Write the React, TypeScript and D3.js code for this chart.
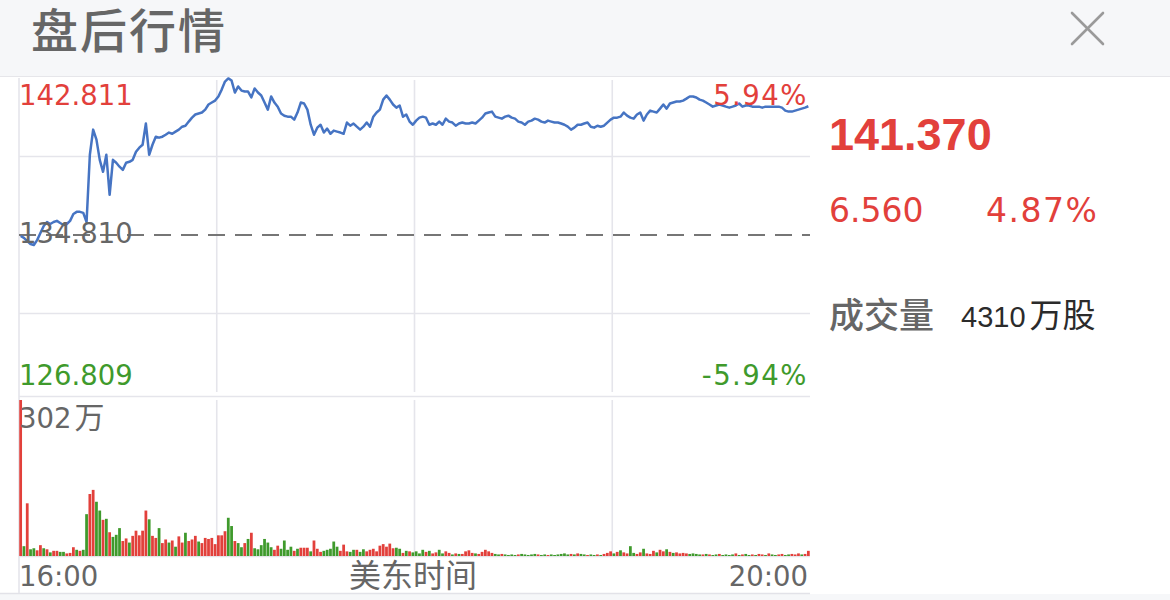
import React from 'react';
import * as d3 from 'd3';

// ---------- data ----------
const PRICES: number[] = [
  134.76, 134.66, 134.50, 134.35, 134.30, 134.55, 134.91, 135.27, 135.47, 135.37,
  135.47, 135.53, 135.42, 135.32, 135.37, 135.53, 135.88, 135.99, 135.99, 135.94,
  135.47, 138.90, 140.18, 139.67, 138.64, 138.03, 138.90, 136.86, 138.64, 138.49,
  138.29, 138.13, 138.49, 138.54, 138.64, 139.05, 139.26, 139.41, 140.49, 138.90,
  139.41, 139.82, 139.77, 139.82, 139.92, 140.03, 139.97, 140.08, 140.18, 140.33,
  140.38, 140.59, 140.79, 140.95, 141.00, 141.05, 141.20, 141.46, 141.56, 141.66,
  141.87, 142.22, 142.63, 142.79, 142.68, 142.07, 142.38, 142.17, 142.12, 142.12,
  141.82, 142.28, 142.07, 141.92, 141.56, 141.20, 141.87, 141.56, 141.35, 141.00,
  140.89, 140.84, 140.84, 140.69, 141.05, 141.56, 141.51, 141.20, 140.43, 139.92,
  140.28, 140.43, 140.03, 140.23, 139.97, 140.13, 140.08, 140.03, 139.97, 140.54,
  140.38, 140.49, 140.33, 140.18, 140.33, 140.54, 140.33, 140.84, 141.05, 141.20,
  141.71, 141.92, 141.71, 141.46, 141.30, 141.41, 140.84, 140.95, 140.59, 140.43,
  140.64, 140.79, 140.84, 140.79, 140.43, 140.49, 140.43, 140.59, 140.43, 140.74,
  140.59, 140.54, 140.38, 140.49, 140.54, 140.49, 140.49, 140.54, 140.49, 140.64,
  140.79, 141.00, 141.05, 141.10, 140.84, 140.79, 140.74, 140.84, 140.89, 140.79,
  140.74, 140.59, 140.54, 140.43, 140.59, 140.64, 140.74, 140.69, 140.59, 140.54,
  140.64, 140.59, 140.54, 140.54, 140.49, 140.43, 140.33, 140.18, 140.28, 140.43,
  140.43, 140.49, 140.54, 140.33, 140.28, 140.38, 140.33, 140.38, 140.54, 140.69,
  140.79, 140.79, 140.84, 141.05, 140.89, 140.79, 140.74, 140.95, 141.05, 140.64,
  140.95, 141.15, 141.10, 141.05, 141.25, 141.46, 141.25, 141.51, 141.56, 141.61,
  141.61, 141.66, 141.76, 141.87, 141.87, 141.82, 141.71, 141.66, 141.56, 141.46,
  141.35, 141.41, 141.46, 141.41, 141.35, 141.30, 141.35, 141.41, 141.51, 141.35,
  141.41, 141.41, 141.35, 141.35, 141.35, 141.30, 141.35, 141.35, 141.35, 141.35,
  141.35, 141.30, 141.15, 141.10, 141.10, 141.15, 141.20, 141.25, 141.30, 141.37,
];

// volume per minute, in 万股
const VOLUMES: number[] = [
  302, 19, 102, 13, 15, 11, 21, 15, 13, 7,
  10, 10, 8, 8, 5, 6, 17, 12, 10, 12,
  81, 120, 128, 105, 88, 70, 72, 46, 37, 41,
  54, 29, 34, 26, 39, 49, 40, 49, 88, 71,
  39, 35, 54, 25, 32, 26, 30, 18, 38, 26,
  45, 29, 32, 39, 28, 25, 35, 33, 35, 23,
  40, 40, 48, 74, 58, 29, 25, 17, 25, 33,
  45, 15, 13, 21, 33, 26, 17, 12, 20, 14,
  30, 12, 18, 10, 14, 16, 16, 16, 9, 30,
  14, 8, 10, 12, 14, 28, 18, 10, 22, 9,
  8, 12, 12, 8, 13, 9, 12, 14, 9, 20,
  23, 18, 24, 15, 16, 14, 6, 10, 9, 7,
  9, 5, 12, 8, 10, 5, 7, 12, 5, 9,
  6, 3, 5, 4, 4, 9, 11, 6, 5, 4,
  8, 12, 9, 6, 4, 3, 4, 3, 2, 3,
  2, 3, 4, 3, 2, 3, 4, 3, 2, 3,
  2, 3, 2, 3, 4, 5, 3, 4, 3, 5,
  4, 3, 2, 3, 2, 3, 2, 4, 6, 9,
  5, 8, 11, 7, 5, 19, 6, 4, 7, 14,
  5, 4, 10, 7, 12, 9, 13, 8, 6, 7,
  5, 6, 5, 4, 5, 4, 3, 3, 4, 3,
  2, 3, 4, 2, 3, 2, 3, 5, 2, 3,
  4, 2, 3, 2, 4, 3, 2, 5, 3, 2,
  3, 4, 2, 3, 4, 3, 5, 3, 4, 10,
];

// r = up (red), g = down (green)
const VOLUME_SIDE: string[] = (
  'rgrggrrgrgrrggrrrgrg' +
  'grrggrgrgggrrgrrrrrg' +
  'rrgrrgrgrrgrrrgrrrrr' +
  'rrrggrggrgrggggggrrg' +
  'gggrgrrrgrrrgggggrrr' +
  'ggrggrrrrrrrrrggrgrg' +
  'gggrgrrggrrgrgrrrrgr' +
  'rrrrggrggggrgggggrgg' +
  'rggggggrgrggrggrgrrr' +
  'grgrrggrrgrrrgrrgrgr' +
  'rrrggggrgrggrggggrgr' +
  'ggrgrrgrggrrggrrrgrr'
).split('');

const PREV_CLOSE = 134.81;
const PRICE_HIGH = 142.811;
const PRICE_LOW = 126.809;
const PRICE_LABELS = ['142.811', '134.810', '126.809'];
const PCT_LABELS = ['5.94%', '-5.94%'];
const VOLUME_MAX = 302;
const VOLUME_MAX_NUM = '302';
const VOLUME_MAX_UNIT = '万';
const TIME_LABELS = ['16:00', '美东时间', '20:00'];
const TITLE = '盘后行情';
const LAST_PRICE = '141.370';
const CHANGE = '6.560';
const CHANGE_PCT = '4.87%';
const VOLUME_CAPTION = '成交量';
const VOLUME_TOTAL = '4310';
const VOLUME_UNIT = '万股';

// ---------- styles ----------
const RED = '#e2403b';
const GREEN = '#3f9a2c';
const BLUE = '#4674c3';
const GRID = '#e5e5eb';
const TEXT_GRAY = '#666666';
const NUM_FONT = "'DejaVu Sans', 'Noto Sans CJK SC', sans-serif";
const BOLD_FONT = "'Liberation Sans', Arial, sans-serif";
const PLAIN_FONT = "'Liberation Sans', Arial, 'Noto Sans CJK SC', sans-serif";
const CJK_FONT = "'Noto Sans CJK SC', 'Liberation Sans', sans-serif";

const W = 1170;
const H = 600;
const LEFT = 19;
const RIGHT = 810;
const P_TOP = 78;
const P_BOTTOM = 392;
const V_TOP = 400;
const V_BOTTOM = 556;

export default function App() {
  const n = PRICES.length;
  const idx = d3.range(n);
  const xBand = d3.scaleBand<number>().domain(idx).range([LEFT, RIGHT]).paddingInner(0.16).paddingOuter(0.08);
  const step = (RIGHT - LEFT) / n;
  const xc = (i: number) => LEFT + (i + 0.5) * step;
  const yP = d3.scaleLinear().domain([PRICE_LOW, PRICE_HIGH]).range([P_BOTTOM, P_TOP]);
  const yV = d3.scaleLinear().domain([0, VOLUME_MAX]).range([V_BOTTOM, V_TOP]);

  const line = d3
    .line<number>()
    .x((_, i) => xc(i))
    .y((d) => yP(d));

  const quarterY = [yP(PREV_CLOSE + (PRICE_HIGH - PREV_CLOSE) / 2), yP(PREV_CLOSE - (PREV_CLOSE - PRICE_LOW) / 2)];
  const vx = d3.scaleLinear().domain([0, 4]).range([LEFT, RIGHT]);
  const vLines = [1, 2, 3].map((k) => vx(k));

  return (
    <svg
      width={W}
      height={H}
      style={{ position: 'absolute', left: 0, top: 0, display: 'block', background: '#fff' }}
    >
      {/* header */}
      <rect x={0} y={0} width={W} height={76} fill="#f6f7f9" />
      <line x1={0} x2={W} y1={76.5} y2={76.5} stroke="#e6e6ea" strokeWidth={1} />
      <text x={31} y={48} fontFamily={CJK_FONT} fontSize={47} fontWeight={500} fill={TEXT_GRAY} letterSpacing={2}>
        {TITLE}
      </text>
      <g stroke="#9a9a9a" strokeWidth={2.6} strokeLinecap="round">
        <line x1={1072} y1={13} x2={1103} y2={44} />
        <line x1={1103} y1={13} x2={1072} y2={44} />
      </g>

      {/* bottom band */}
      <rect x={0} y={594} width={W} height={6} fill="#f6f7f9" />
      <line x1={0} x2={RIGHT} y1={593.5} y2={593.5} stroke="#e2e2e8" strokeWidth={1.5} />

      {/* grid */}
      <g stroke={GRID} strokeWidth={1.6}>
        <line x1={LEFT} x2={LEFT} y1={P_TOP} y2={593} />
        {quarterY.map((y, i) => (
          <line key={'hq' + i} x1={LEFT} x2={RIGHT} y1={y} y2={y} />
        ))}
        <line x1={LEFT} x2={RIGHT} y1={396.5} y2={396.5} />
        <line x1={LEFT} x2={RIGHT} y1={V_BOTTOM + 0.5} y2={V_BOTTOM + 0.5} />
        {vLines.map((x, i) => (
          <g key={'v' + i}>
            <line x1={x} x2={x} y1={P_TOP + 2} y2={P_BOTTOM} />
            <line x1={x} x2={x} y1={V_TOP} y2={V_BOTTOM} />
          </g>
        ))}
      </g>

      {/* previous close dashed line */}
      <line
        x1={LEFT}
        x2={RIGHT}
        y1={yP(PREV_CLOSE)}
        y2={yP(PREV_CLOSE)}
        stroke="#767676"
        strokeWidth={2}
        strokeDasharray="17 10"
      />

      {/* price line */}
      <path d={line(PRICES) || ''} fill="none" stroke={BLUE} strokeWidth={2.5} strokeLinejoin="round" />

      {/* volume bars */}
      {VOLUMES.map((v, i) => (
        <rect
          key={'b' + i}
          x={xBand(i)}
          y={yV(v)}
          width={xBand.bandwidth()}
          height={Math.max(0.8, V_BOTTOM - yV(v))}
          fill={VOLUME_SIDE[i] === 'r' ? RED : GREEN}
        />
      ))}

      {/* price labels */}
      <g fontFamily={NUM_FONT} fontSize={27.5}>
        <text x={19} y={105} fill={RED}>{PRICE_LABELS[0]}</text>
        <text x={19} y={243} fill={TEXT_GRAY}>{PRICE_LABELS[1]}</text>
        <text x={19} y={385} fill={GREEN}>{PRICE_LABELS[2]}</text>
        <text x={808} y={105} fill={RED} textAnchor="end" letterSpacing={1.5}>{PCT_LABELS[0]}</text>
        <text x={808} y={385} fill={GREEN} textAnchor="end" letterSpacing={1.5}>{PCT_LABELS[1]}</text>
        <text x={19} y={428} fill={TEXT_GRAY}>
          {VOLUME_MAX_NUM}
          <tspan dx={3} fontFamily={CJK_FONT} fontSize={30}>{VOLUME_MAX_UNIT}</tspan>
        </text>
        <text x={19} y={586} fill={TEXT_GRAY}>{TIME_LABELS[0]}</text>
        <text x={413} y={587} fill={TEXT_GRAY} textAnchor="middle" fontFamily={CJK_FONT} fontSize={32}>
          {TIME_LABELS[1]}
        </text>
        <text x={808} y={586} fill={TEXT_GRAY} textAnchor="end">{TIME_LABELS[2]}</text>
      </g>

      {/* right panel */}
      <text x={829} y={150} fontFamily={BOLD_FONT} fontSize={45} fontWeight={700} fill={RED}>
        {LAST_PRICE}
      </text>
      <g fontFamily={NUM_FONT} fontSize={33} fill={RED}>
        <text x={829} y={222}>{CHANGE}</text>
        <text x={986} y={222} letterSpacing={1.5}>{CHANGE_PCT}</text>
      </g>
      <text x={829} y={328} fontFamily={CJK_FONT} fontSize={35} fontWeight={500} fill={TEXT_GRAY}>
        {VOLUME_CAPTION}
      </text>
      <text x={961} y={327} fontFamily={PLAIN_FONT} fontSize={29} fill="#2b2b2b">
        {VOLUME_TOTAL}
        <tspan dx={4} fontFamily={CJK_FONT} fontSize={33}>{VOLUME_UNIT}</tspan>
      </text>
    </svg>
  );
}
